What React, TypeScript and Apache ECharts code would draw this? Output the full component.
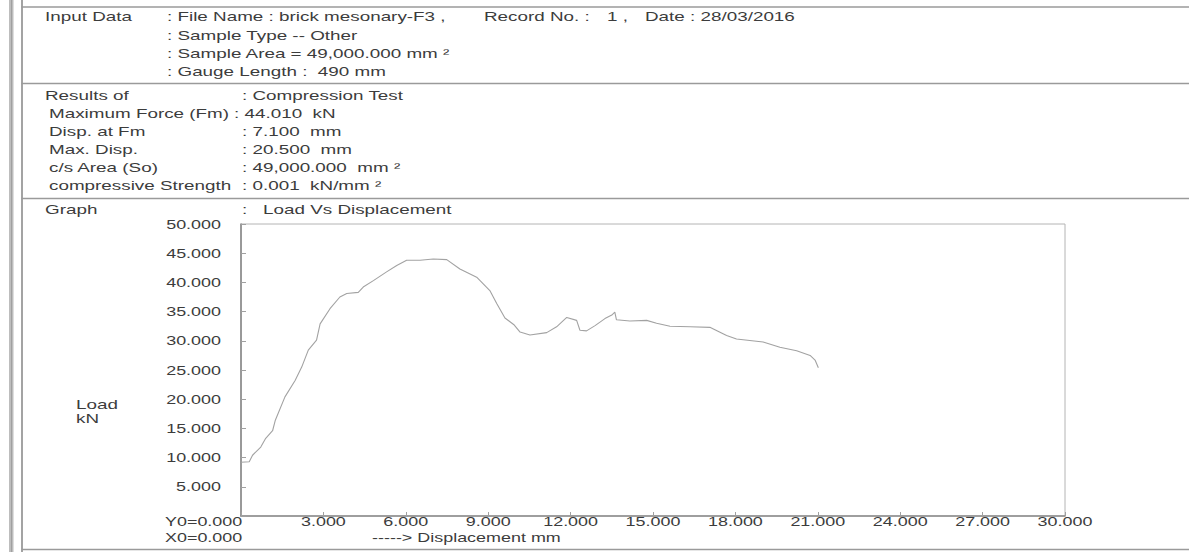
import React, { useEffect, useRef } from "react";
import * as echarts from "echarts";

// ---- data ----
const displacementMm = [
  0.0, 0.3, 0.42, 0.72, 0.9, 1.15, 1.25, 1.6, 1.97, 2.21, 2.45, 2.75, 2.88, 3.24, 3.6, 3.85,
  4.27, 4.45, 4.82, 5.3, 5.67, 6.03, 6.52, 7.0, 7.49, 7.97, 8.58, 9.06, 9.31, 9.61, 9.95,
  10.16, 10.52, 11.13, 11.49, 11.86, 12.22, 12.34, 12.58, 12.89, 13.25, 13.5, 13.61, 13.67,
  14.16, 14.77, 15.13, 15.62, 16.35, 17.07, 17.68, 18.04, 19.01, 19.62, 20.23, 20.72, 20.9, 21.02,
];
const loadKn = [
  9.2, 9.3, 10.4, 11.8, 13.3, 14.6, 16.4, 20.4, 23.2, 25.5, 28.4, 30.1, 32.9, 35.5, 37.5, 38.1,
  38.3, 39.2, 40.3, 41.8, 42.9, 43.8, 43.8, 44.0, 43.9, 42.3, 40.9, 38.6, 36.4, 33.9, 32.7,
  31.5, 31.0, 31.4, 32.4, 34.0, 33.5, 31.8, 31.7, 32.6, 33.8, 34.4, 34.9, 33.6,
  33.4, 33.5, 33.0, 32.5, 32.4, 32.3, 30.9, 30.3, 29.8, 28.9, 28.3, 27.5, 26.7, 25.4,
];
const xAxisRange = [0, 30];
const xAxisStep = 3;
const yAxisRange = [0, 50];
const yAxisStep = 5;
const xTickValues = [3, 6, 9, 12, 15, 18, 21, 24, 27, 30];
const yTickValues = [5, 10, 15, 20, 25, 30, 35, 40, 45, 50];
const originLabels = ["Y0=0.000", "X0=0.000"];

const inputDataLines = [
  ": Sample Type -- Other",
  ": Sample Area = 49,000.000 mm \u00b2",
  ": Gauge Length :  490 mm",
];
const resultLabels = [
  "Maximum Force (Fm)",
  "Disp. at Fm",
  "Max. Disp.",
  "c/s Area (So)",
  "compressive Strength",
];
const resultValues = [
  ": 44.010  kN",
  ": 7.100  mm",
  ": 20.500  mm",
  ": 49,000.000  mm \u00b2",
  ": 0.001  kN/mm \u00b2",
];
const resultValueX = [234, 242, 242, 242, 242];

const FONT = '"Liberation Sans", Arial, sans-serif';
const TXT = "#3c3c3c";
const FS = 13;
const SX_INFO = 1.45; // the reference text is horizontally stretched
const SX_TICK = 1.38;

function txt(text: string, x: number, y: number, sx: number, extra: any = {}) {
  return {
    type: "text",
    x,
    y,
    scaleX: sx,
    silent: true,
    style: {
      text,
      fill: TXT,
      fontSize: FS,
      fontFamily: FONT,
      verticalAlign: "middle",
      align: "left",
      ...extra,
    },
  };
}

function hline(y: number) {
  return {
    type: "line",
    silent: true,
    shape: { x1: 21.5, y1: y, x2: 1189, y2: y },
    style: { stroke: "#9a9a9a", lineWidth: 1.3 },
  };
}

export default function App() {
  const ref = useRef<HTMLDivElement>(null);
  useEffect(() => {
    document.body.style.margin = "0";
    const chart = echarts.init(ref.current!, undefined, { renderer: "svg" });
    const I = SX_INFO;
    const staticGraphic: any[] = [
      { type: "rect", silent: true, shape: { x: 9, y: 0, width: 4.5, height: 552 }, style: { fill: "#bdbdbd" } },
      { type: "line", silent: true, shape: { x1: 11.5, y1: 0, x2: 11.5, y2: 552 }, style: { stroke: "#a0a0a0", lineWidth: 1 } },
      { type: "line", silent: true, shape: { x1: 22, y1: 0, x2: 22, y2: 552 }, style: { stroke: "#8c8c8c", lineWidth: 1.6 } },
      hline(7),
      hline(83.5),
      hline(198.5),
      hline(549.5),
      txt("Input Data", 45, 16, I),
      txt(": File Name : brick mesonary-F3 ,", 167, 16, I),
      txt("Record No. :", 484, 16, I),
      txt("1 ,", 607, 16, I),
      txt("Date : 28/03/2016", 645, 16, I),
      ...inputDataLines.map((t, i) => txt(t, 167, 35 + i * 18, I)),
      txt("Results of", 45, 95, I),
      txt(": Compression Test", 242, 95, I),
      ...resultLabels.map((t, i) => txt(t, 49, 113 + i * 18, I)),
      ...resultValues.map((t, i) => txt(t, resultValueX[i], 113 + i * 18, I)),
      txt("Graph", 45, 209, I),
      txt(":", 242, 209, I),
      txt("Load Vs Displacement", 263, 209, I),
      txt("Load", 76, 404, I),
      txt("kN", 76, 418, I),
      txt("-----> Displacement mm", 372, 537, SX_TICK),
    ];
    chart.setOption({
      animation: false,
      backgroundColor: "#ffffff",
      grid: {
        show: true,
        left: 241,
        top: 224,
        width: 824,
        height: 292,
        borderColor: "#b4b4b4",
        borderWidth: 1,
        backgroundColor: "transparent",
      },
      xAxis: {
        type: "value",
        min: xAxisRange[0],
        max: xAxisRange[1],
        interval: xAxisStep,
        axisLine: { show: true, onZero: false, lineStyle: { color: "#8a8a8a", width: 1.6 } },
        axisTick: { show: true, inside: true, length: 4, lineStyle: { color: "#a0a0a0" } },
        splitLine: { show: false },
        axisLabel: { show: false },
      },
      yAxis: {
        type: "value",
        min: yAxisRange[0],
        max: yAxisRange[1],
        interval: yAxisStep,
        axisLine: { show: true, onZero: false, lineStyle: { color: "#8a8a8a", width: 1.6 } },
        axisTick: { show: true, inside: true, length: 5, lineStyle: { color: "#a0a0a0" } },
        splitLine: { show: false },
        axisLabel: { show: false },
      },
      series: [
        {
          type: "line",
          data: displacementMm.map((x, i) => [x, loadKn[i]]),
          showSymbol: false,
          symbol: "none",
          lineStyle: { color: "#a2a2a2", width: 1.1 },
          silent: true,
        },
      ],
      graphic: staticGraphic,
    });

    // tick labels placed through the axes' own scales
    const px0 = chart.convertToPixel({ xAxisIndex: 0 }, xAxisRange[0]) as number;
    const py0 = chart.convertToPixel({ yAxisIndex: 0 }, yAxisRange[0]) as number;
    const T = SX_TICK;
    const tickTexts = [
      ...xTickValues.map((v) =>
        txt(v.toFixed(3), chart.convertToPixel({ xAxisIndex: 0 }, v) as number, py0 + 5, T, { align: "center" })
      ),
      ...yTickValues.map((v) =>
        txt(v.toFixed(3), px0 - 20, chart.convertToPixel({ yAxisIndex: 0 }, v) as number, T, { align: "right" })
      ),
      txt(originLabels[0], px0 - 76, py0 + 5, T),
      txt(originLabels[1], px0 - 76, py0 + 21, T),
    ];
    chart.setOption({ graphic: [...staticGraphic, ...tickTexts] });
    return () => chart.dispose();
  }, []);
  return (
    <div
      ref={ref}
      style={{ position: "fixed", left: 0, top: 0, width: 1189, height: 552, background: "#fff" }}
    />
  );
}
